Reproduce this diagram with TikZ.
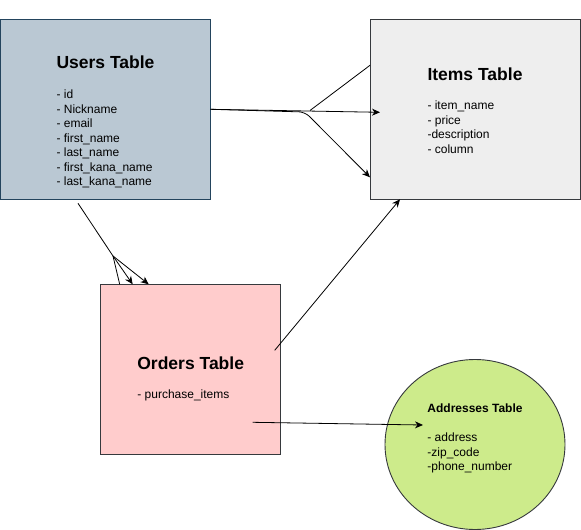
\documentclass[tikz,border=0pt]{standalone}
\usepackage{fontspec}
\setmainfont{Liberation Sans}
\usepackage{xcolor}
\usepackage{tikz}
\usetikzlibrary{positioning}
\usetikzlibrary{shapes.geometric, arrows.meta}
\definecolor{usersfill}{HTML}{BAC8D3}
\definecolor{usersdraw}{HTML}{23445D}
\definecolor{itemsfill}{HTML}{EEEEEE}
\definecolor{ordersfill}{HTML}{FFCCCC}
\definecolor{addrfill}{HTML}{CDEB8B}
\definecolor{darkline}{HTML}{36393D}
\tikzstyle{tablebox} = [rectangle, minimum width=210pt, minimum height=180pt, inner sep=0pt, outer sep=0pt, line width=0.9pt]
\tikzstyle{fields} = [anchor=base, inner sep=0pt, font=\fontsize{12pt}{14.5pt}\selectfont]
\tikzstyle{arrow} = [line width=0.8pt, -{Stealth[length=8pt, width=7pt, inset=2.5pt]}]
\tikzstyle{link} = [line width=0.8pt]
\newcommand{\tabletitle}[1]{{\fontsize{17.5pt}{21pt}\selectfont\bfseries #1}}

\begin{document}
\begin{tikzpicture}[x=1pt, y=-1pt]
    \useasboundingbox (0,0) rectangle (581,530);
    % Nodes
    \node (users) [tablebox, fill=usersfill, draw=usersdraw] at (105.5,109.3) {};
    \node (items) [tablebox, fill=itemsfill, draw=darkline, right=159.5pt of users] {};
    \node (orders) [tablebox, minimum width=180pt, minimum height=170pt, fill=ordersfill, draw=darkline] at (190.7,369.3) {};
    \node (addresses) [ellipse, minimum width=180pt, minimum height=170pt, inner sep=0pt, line width=0.9pt, fill=addrfill, draw=darkline] at (475,444.5) {};
    % Texts
    \node (users text) [fields] at ([yshift=-49pt]users.north) {\begin{tabular}[t]{@{}l@{}}\tabletitle{Users Table}\\[16pt]
        - id\\ - Nickname\\ - email\\ - first\_name\\ - last\_name\\ - first\_kana\_name\\ - last\_kana\_name\end{tabular}};
    \node (items text) [fields] at ([yshift=-61.2pt]items.north) {\begin{tabular}[t]{@{}l@{}}\tabletitle{Items Table}\\[14.5pt]
        - item\_name\\ - price\\ -description\\ - column\end{tabular}};
    \node (orders text) [fields] at ([yshift=-85.2pt]orders.north) {\begin{tabular}[t]{@{}l@{}}\tabletitle{Orders Table}\\[14pt]
        - purchase\_items\end{tabular}};
    \node (addresses text) [fields] at ([yshift=-53.5pt]addresses.north) {\begin{tabular}[t]{@{}l@{}}\textbf{Addresses Table}\\[14.5pt]
        - address\\ -zip\_code\\ -phone\_number\end{tabular}};
    % Arrows
    \coordinate (fork) at (305,112);
    \coordinate (split) at (113,256);
    \draw [arrow] (users.east) -- ([xshift=10pt, yshift=-3pt]items.west);
    \draw [arrow, rounded corners=6pt] (users.east) -- (fork) -- ([yshift=-68pt]items.west);
    \draw [link] ([xshift=5pt, yshift=1.5pt]fork) -- ([yshift=44pt]items.west);
    \draw [link] ([xshift=-27.5pt, yshift=-4pt]users.south) -- (split) -- ([xshift=-71pt]orders.north);
    \draw [arrow] (split) -- ([xshift=-58pt]orders.north);
    \draw [arrow] (split) -- ([xshift=-42pt]orders.north);
    \draw [arrow] ([xshift=-6pt, yshift=19pt]orders.east) -- ([xshift=-75pt]items.south);
    \draw [arrow] ([xshift=62pt, yshift=-53pt]orders.center) -- ([xshift=-52pt, yshift=19.5pt]addresses.center);
\end{tikzpicture}
\end{document}
